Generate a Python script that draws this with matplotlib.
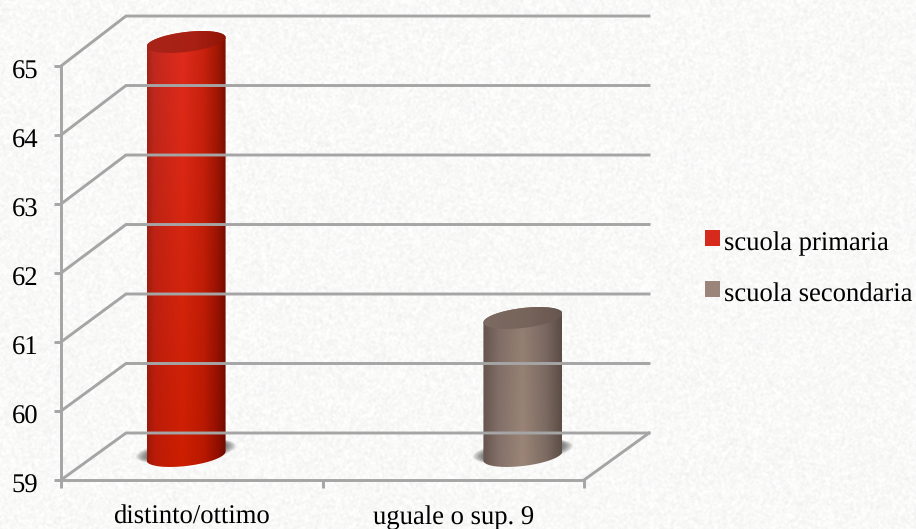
import numpy as np
import matplotlib
matplotlib.use("Agg")
import matplotlib.pyplot as plt
from matplotlib.colors import to_rgb
from matplotlib.patches import Polygon, Patch
from matplotlib.transforms import Affine2D

# ---- data ----
categories = ["distinto/ottimo", "uguale o sup. 9"]
series_names = ["scuola primaria", "scuola secondaria"]
primaria = [65, np.nan]
secondaria = [np.nan, 61]
y_ticks = [59, 60, 61, 62, 63, 64, 65]

# ---- style ----
W, H = 916, 529
GRID = "#a5a5a5"
LW = 2.1
plt.rcParams["font.family"] = ["Liberation Serif", "DejaVu Serif"]
plt.rcParams["text.hinting"] = "no_hinting"
FS = 19.2

fig = plt.figure(figsize=(W / 100, H / 100), dpi=100)

# paper-like backdrop (deterministic hash texture, decoration only)
yy, xx = np.mgrid[0:H + 8, 0:W + 8]
h = np.sin(xx * 12.9898 + yy * 78.233) * 43758.5453
h = h - np.floor(h)
kern = np.ones(3) / 3
for axis in (0, 1):
    h = np.apply_along_axis(lambda v: np.convolve(v, kern, mode="same"), axis, h)
h = h[4:H + 4, 4:W + 4]
h = (h - h.mean()) / h.std()
tex = np.clip(0.978 + 0.011 * h, 0, 1)
fig.figimage(np.dstack([tex, tex, tex * 0.998]), zorder=-5, origin="upper")

ax = fig.add_axes([61 / W, (H - 480) / H, (584 - 61) / W, (480 - 66) / H])
ax.patch.set_alpha(0)
ax.set_xlim(0, 2)
ax.set_ylim(59, 65)

# back wall: shifted up and right, very slightly taller than the front plane
depth = Affine2D().translate(0, -49).scale(1, 1.0072).translate(65, 49 + 47)
mid = Affine2D().translate(32, 24)    # cylinder row shift
t_back = ax.transData + depth
t_mid = ax.transData + mid

# walls and floor
for v in y_ticks:
    x0, y0 = ax.transData.transform((0, v))
    x1, y1 = t_back.transform((0, v))
    x2, y2 = t_back.transform((2, v))
    fig.add_artist(plt.Line2D([x0 / W, x1 / W, x2 / W], [y0 / H, y1 / H, y2 / H],
                              color=GRID, lw=LW, solid_joinstyle="miter", zorder=1))
xa, ya = ax.transData.transform((2, 59))
xb, yb = t_back.transform((2, 59))
fig.add_artist(plt.Line2D([xa / W, xb / W], [ya / H, yb / H], color=GRID, lw=LW, zorder=1))

# axes furniture
for s in ("top", "right"):
    ax.spines[s].set_visible(False)
for s in ("left", "bottom"):
    ax.spines[s].set_color(GRID)
    ax.spines[s].set_linewidth(LW)
ax.set_yticks(y_ticks)
ax.set_xticks([0, 1, 2])
ax.set_xticklabels([])
ax.set_xticks([0.5, 1.5], minor=True)
ax.set_xticklabels(categories, minor=True, fontsize=FS)
ax.tick_params(axis="y", length=5, width=LW, color=GRID, pad=12, labelsize=FS)
ax.tick_params(axis="x", which="major", length=6, width=LW, color=GRID)
ax.tick_params(axis="x", which="minor", length=0, pad=18)

BAR_W = 0.302
BAR_SHIFT = 0.144
EL_B = 10 / 69.0
EL_S = 4.5 / 69.0
NUM = 80
YB = 59


def ramp(stops, n=200):
    pos = [p for p, _ in stops]
    cols = np.array([to_rgb(c) for _, c in stops])
    x = np.linspace(0, 1, n)
    return np.dstack([np.interp(x, pos, cols[:, i]) for i in range(3)])


def cyl_xy(cx, cy, t):
    return np.column_stack([cx + BAR_W / 2 * np.cos(t),
                            cy + EL_S * np.cos(t) + EL_B * np.sin(t)])


def cylinder(cx, val, top_stops, bot_stops, cap_stops):
    base = cyl_xy(cx, YB, np.linspace(np.pi, 2 * np.pi, NUM))
    top = cyl_xy(cx, val, np.linspace(0, np.pi, NUM))
    # soft floor shadow
    sh_t = np.linspace(0, 2 * np.pi, 90)
    for k in range(12):
        g = 1.27 - k * 0.022
        xy = np.column_stack([cx + BAR_W / 2 * g * np.cos(sh_t),
                              YB + 0.07 + EL_S * 1.2 * np.cos(sh_t) + EL_B * (1.0 + 0.022 * (11 - k) - 0.1) * np.sin(sh_t)])
        ax.add_patch(Polygon(xy, closed=True, fc="#3c3c3c", ec="none", alpha=0.075,
                             transform=t_mid, clip_on=False, zorder=3))
    body = Polygon(np.vstack([base, top]), closed=True, fc="none", ec="none",
                   transform=t_mid, zorder=4)
    ax.add_patch(body)
    a = ramp(top_stops)
    b = ramp(bot_stops)
    v = np.linspace(0, 1, 120)[:, None, None]
    img = a * (1 - v) + b * v
    im = ax.imshow(img, extent=[cx - BAR_W / 2, cx + BAR_W / 2, YB - 2 * EL_B, val + 2 * EL_B],
                   aspect="auto", transform=t_mid, zorder=4, interpolation="bilinear")
    im.set_clip_box(fig.bbox)
    im.set_clip_path(body)
    cap = Polygon(cyl_xy(cx, val, np.linspace(0, 2 * np.pi, 120)), closed=True, fc="none",
                  ec="none", transform=t_mid, zorder=5)
    ax.add_patch(cap)
    imc = ax.imshow(ramp(cap_stops), extent=[cx - BAR_W / 2, cx + BAR_W / 2, val - 2 * EL_B, val + 2 * EL_B],
                    aspect="auto", transform=t_mid, zorder=5, interpolation="bilinear")
    imc.set_clip_box(fig.bbox)
    imc.set_clip_path(cap)


RED_T = [(0, "#a0241a"), (0.08, "#c02a20"), (0.45, "#e02c1e"), (0.72, "#c8220f"), (0.9, "#a01804"), (1, "#7c0e02")]
RED_B = [(0, "#981808"), (0.10, "#bb1a06"), (0.45, "#cc1e00"), (0.72, "#b81800"), (0.9, "#900e00"), (1, "#6e0a00")]
RED_C = [(0, "#a92418"), (0.6, "#a82014"), (1, "#8f1405")]
BRN_T = [(0, "#64544c"), (0.2, "#7f6c64"), (0.5, "#927d71"), (0.8, "#786660"), (1, "#5a4b44")]
BRN_B = [(0, "#65554d"), (0.2, "#84716a"), (0.5, "#9c8678"), (0.8, "#7d6c62"), (1, "#5c4d46")]
BRN_C = [(0, "#7d6a62"), (0.6, "#766359"), (1, "#665550")]

for i in range(len(categories)):
    if not np.isnan(primaria[i]):
        cylinder(i + 0.5 - BAR_SHIFT, primaria[i], RED_T, RED_B, RED_C)
    if not np.isnan(secondaria[i]):
        cylinder(i + 0.5 + BAR_SHIFT, secondaria[i], BRN_T, BRN_B, BRN_C)

ax.set_xlim(0, 2)
ax.set_ylim(59, 65)

# nudge value labels slightly below their ticks, as in the reference
fig.canvas.draw()
for tick in ax.yaxis.get_major_ticks():
    tick.label1.set_transform(ax.get_yaxis_transform(which="tick1")
                              + Affine2D().translate(-23, -6))
    tick.label1.set_verticalalignment("center")

handles = [Patch(fc="#d62a1c", ec="none"), Patch(fc="#9b857a", ec="none")]
leg = fig.legend(handles, series_names, loc="upper left", bbox_to_anchor=(702.5 / W, (H - 229) / H),
                 bbox_transform=fig.transFigure, frameon=False, fontsize=FS,
                 handlelength=0.54, handleheight=0.54, handletextpad=0.17, labelspacing=1.0,
                 borderpad=0.1, borderaxespad=0)
for p in leg.get_patches():
    p.set_y(p.get_y() + 2.2)

fig.savefig("out.png", dpi=100)
